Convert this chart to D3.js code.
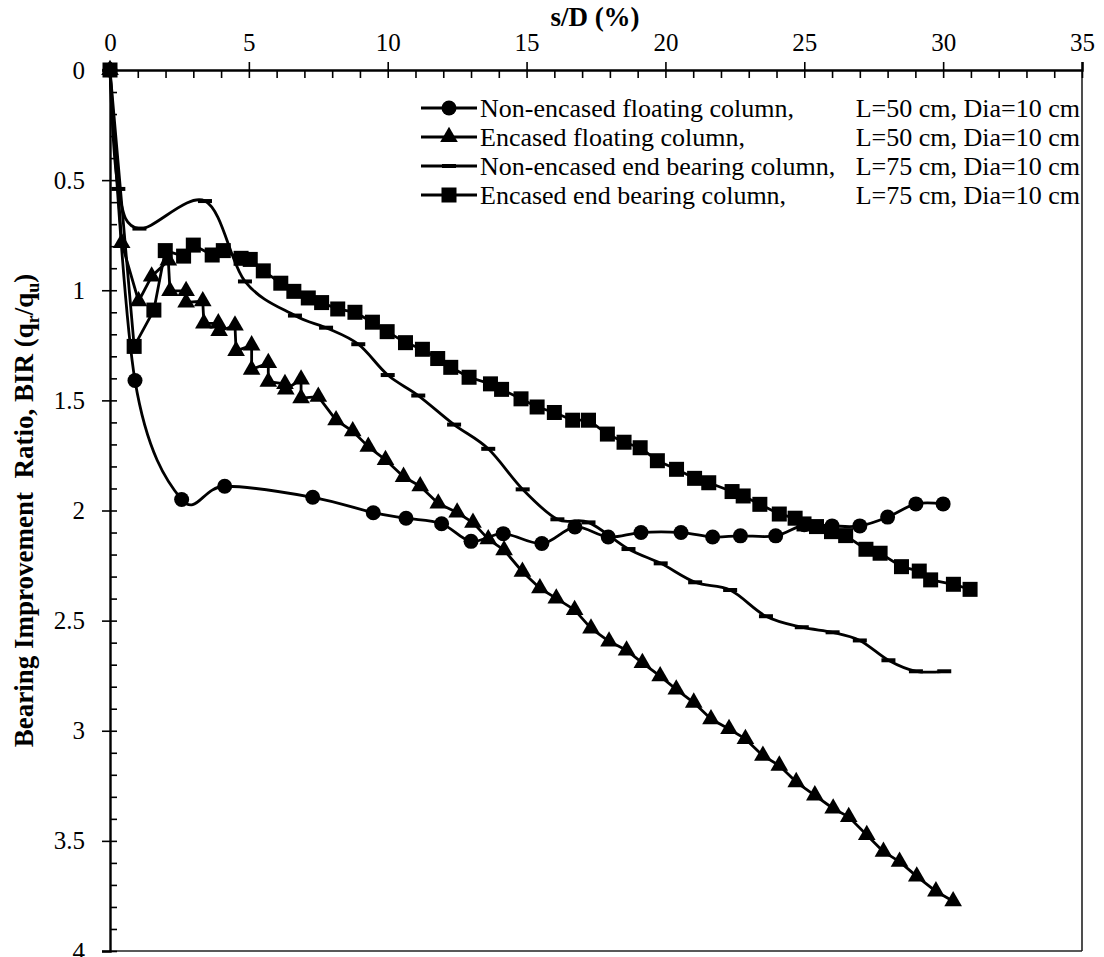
<!DOCTYPE html>
<html>
<head>
<meta charset="utf-8">
<script src="https://cdn.jsdelivr.net/npm/d3@7"></script>
<style>
  body { margin: 0; background: #fff; }
  svg text { font-family: "Liberation Serif", "Times New Roman", serif; fill: #000; }
</style>
</head>
<body>
<svg id="chart" width="1104" height="957"></svg>
<script>
// ---- data -------------------------------------------------------------
const xTickValues = [0, 5, 10, 15, 20, 25, 30, 35];
const xTickLabels = ["0", "5", "10", "15", "20", "25", "30", "35"];
const yTickValues = [0, 0.5, 1, 1.5, 2, 2.5, 3, 3.5, 4];
const yTickLabels = ["0", "0.5", "1", "1.5", "2", "2.5", "3", "3.5", "4"];

const seriesNames = [
  "Non-encased floating column,",
  "Encased floating column,",
  "Non-encased end bearing column,",
  "Encased end bearing column,"
];
const seriesDims = [
  "L=50 cm, Dia=10 cm",
  "L=50 cm, Dia=10 cm",
  "L=75 cm, Dia=10 cm",
  "L=75 cm, Dia=10 cm"
];

// Non-encased floating column (circles)
const nefX = [0, 0.9, 2.58, 4.13, 7.3, 9.48, 10.66, 11.94, 13.0, 14.16, 15.55, 16.74, 17.94, 19.12, 20.56, 21.7, 22.7, 23.97, 25.0, 26.0, 27.0, 28.0, 29.02, 30.0];
const nefY = [0, 1.41, 1.95, 1.89, 1.94, 2.01, 2.035, 2.06, 2.14, 2.105, 2.15, 2.075, 2.12, 2.10, 2.10, 2.12, 2.115, 2.115, 2.065, 2.07, 2.07, 2.03, 1.97, 1.97];

// Encased floating column (triangles)
const efX = [0, 0.42, 1.03, 1.5, 2.1, 2.16, 2.74, 2.74, 3.34, 3.38, 3.9, 3.93, 4.5, 4.54, 5.1, 5.1, 5.7, 5.7, 6.3, 6.33, 6.88, 6.88, 7.5,
  8.14, 8.74, 9.3, 9.92, 10.57, 11.17, 11.82, 12.5, 13.07, 13.62, 14.19, 14.85, 15.48, 16.07, 16.73, 17.32, 17.97, 18.6, 19.17,
  19.81, 20.39, 21.02, 21.64, 22.29, 22.88, 23.51, 24.1, 24.71, 25.38, 26.04, 26.6, 27.25, 27.85, 28.43, 29.05, 29.74, 30.36];
const efY = [0, 0.785, 1.05, 0.937, 0.865, 1.003, 1.003, 1.055, 1.05, 1.15, 1.15, 1.185, 1.16, 1.275, 1.25, 1.36, 1.33, 1.415, 1.425, 1.45, 1.405, 1.49, 1.483,
  1.59, 1.64, 1.71, 1.77, 1.847, 1.89, 1.968, 2.009, 2.055, 2.13, 2.18, 2.278, 2.353, 2.399, 2.451, 2.535, 2.594, 2.635, 2.692,
  2.752, 2.812, 2.872, 2.947, 2.992, 3.037, 3.113, 3.158, 3.233, 3.293, 3.353, 3.391, 3.473, 3.549, 3.594, 3.661, 3.729, 3.774];

// Non-encased end bearing column (dashes)
const nebX = [0, 0.3, 1.06, 3.42, 4.86, 6.66, 7.78, 8.94, 10.0, 11.1, 12.39, 13.62, 14.86, 16.11, 17.23, 18.67, 19.83, 21.07, 22.33, 23.62, 24.91, 26.02, 27.0, 28.03, 29.02, 30.04];
const nebY = [0, 0.54, 0.72, 0.595, 0.96, 1.115, 1.17, 1.245, 1.385, 1.478, 1.61, 1.72, 1.904, 2.04, 2.054, 2.175, 2.24, 2.326, 2.361, 2.48, 2.53, 2.553, 2.59, 2.68, 2.73, 2.73];

// Encased end bearing column (squares)
const eebX = [0, 0.87, 1.58, 1.99, 2.65, 3.0, 3.68, 4.08, 4.72, 5.05, 5.52, 6.15, 6.62, 7.14, 7.62, 8.2, 8.82, 9.45, 9.98, 10.64, 11.25, 11.8,
  12.27, 12.93, 13.7, 14.1, 14.8, 15.38, 16.0, 16.66, 17.23, 17.91, 18.51, 19.09, 19.71, 20.4, 21.05, 21.56, 22.4, 22.8, 23.4, 24.1,
  24.67, 24.99, 25.44, 25.98, 26.49, 27.22, 27.73, 28.5, 29.14, 29.55, 30.37, 30.97];
const eebY = [0, 1.255, 1.09, 0.82, 0.845, 0.795, 0.84, 0.82, 0.855, 0.86, 0.912, 0.968, 1.005, 1.035, 1.056, 1.085, 1.10, 1.145, 1.188, 1.238, 1.268, 1.31,
  1.35, 1.395, 1.425, 1.45, 1.493, 1.53, 1.555, 1.59, 1.59, 1.653, 1.69, 1.715, 1.774, 1.813, 1.854, 1.874, 1.914, 1.934, 1.972, 2.016,
  2.035, 2.061, 2.073, 2.096, 2.114, 2.176, 2.194, 2.255, 2.275, 2.315, 2.335, 2.358];

// ---- drawing ----------------------------------------------------------
const svg = d3.select("#chart");
const plot = { left: 110, right: 1082, top: 70, bottom: 951 };

const x = d3.scaleLinear().domain([0, 35]).range([plot.left, plot.right]);
const y = d3.scaleLinear().domain([0, 4]).range([plot.top, plot.bottom]);

const series = [
  { xs: nefX, ys: nefY, marker: "circle", curve: d3.curveCardinal.tension(0) },
  { xs: efX,  ys: efY,  marker: "triangle", curve: d3.curveLinear },
  { xs: nebX, ys: nebY, marker: "dash", curve: d3.curveCardinal.tension(0) },
  { xs: eebX, ys: eebY, marker: "square", curve: d3.curveLinear }
];

// frame: right and bottom edges
svg.append("line").attr("x1", plot.right).attr("x2", plot.right)
  .attr("y1", plot.top).attr("y2", plot.bottom)
  .attr("stroke", "#222").attr("stroke-width", 1.6);
svg.append("line").attr("x1", plot.left).attr("x2", plot.right)
  .attr("y1", plot.bottom).attr("y2", plot.bottom)
  .attr("stroke", "#222").attr("stroke-width", 1.6);

// top x axis: labels + outward major ticks, inward minor ticks
const xMinor = d3.range(0, 35.001, 1);
const topAxis = svg.append("g").attr("transform", `translate(0,${plot.top})`)
  .call(d3.axisTop(x).tickValues(xTickValues)
    .tickFormat((d, i) => xTickLabels[i]).tickSize(8).tickPadding(11));
svg.append("g").attr("transform", `translate(0,${plot.top})`)
  .call(d3.axisBottom(x).tickValues(xMinor).tickFormat("").tickSize(8).tickSizeOuter(0))
  .call(g => g.select(".domain").remove());
topAxis.selectAll("text").attr("font-size", 25).attr("font-family", "Liberation Serif");

// left y axis: labels + outward major ticks, inward minor ticks
const yMinor = d3.range(0, 4.0001, 0.1);
const leftAxis = svg.append("g").attr("transform", `translate(${plot.left},0)`)
  .call(d3.axisLeft(y).tickValues(yTickValues)
    .tickFormat((d, i) => yTickLabels[i]).tickSize(8).tickPadding(17));
svg.append("g").attr("transform", `translate(${plot.left},0)`)
  .call(d3.axisRight(y).tickValues(yMinor).tickFormat("").tickSize(7).tickSizeOuter(0))
  .call(g => g.select(".domain").remove());
leftAxis.selectAll("text").attr("font-size", 25).attr("font-family", "Liberation Serif");

[topAxis, leftAxis].forEach(a => {
  a.select(".domain").attr("stroke", "#000").attr("stroke-width", 2.4);
});
svg.selectAll(".tick line").attr("stroke", "#000").attr("stroke-width", 1.6);

// axis titles
svg.append("text").attr("x", 595).attr("y", 26).attr("text-anchor", "middle")
  .attr("font-size", 27).attr("font-weight", "bold").text("s/D (%)");

const yTitle = svg.append("text")
  .attr("transform", `translate(33,${(plot.top + plot.bottom) / 2}) rotate(-90)`)
  .attr("text-anchor", "middle").attr("font-size", 27).attr("font-weight", "bold")
  .style("white-space", "pre");
yTitle.append("tspan").text("Bearing Improvement  Ratio, BIR (q");
yTitle.append("tspan").attr("dy", 6).attr("font-size", 18).text("r");
yTitle.append("tspan").attr("dy", -6).text("/q");
yTitle.append("tspan").attr("dy", 6).attr("font-size", 18).text("u");
yTitle.append("tspan").attr("dy", -6).text(")");

// marker factory
function drawMarker(g, type, cx, cy) {
  if (type === "circle") {
    g.append("circle").attr("cx", cx).attr("cy", cy).attr("r", 7.5).attr("fill", "#000");
  } else if (type === "square") {
    g.append("rect").attr("x", cx - 7.5).attr("y", cy - 7.5).attr("width", 15).attr("height", 15).attr("fill", "#000");
  } else if (type === "triangle") {
    g.append("path").attr("transform", `translate(${cx},${cy})`)
      .attr("d", d3.symbol(d3.symbolTriangle, 135)()).attr("fill", "#000");
  } else if (type === "dash") {
    g.append("rect").attr("x", cx - 7).attr("y", cy - 2).attr("width", 14).attr("height", 4).attr("fill", "#000");
  }
}

// series lines and markers
const plotG = svg.append("g");
series.forEach(s => {
  const pts = s.xs.map((v, i) => [v, s.ys[i]]);
  const line = d3.line().x(d => x(d[0])).y(d => y(d[1])).curve(s.curve);
  plotG.append("path").attr("d", line(pts)).attr("fill", "none")
    .attr("stroke", "#000").attr("stroke-width", 2.8).attr("stroke-linejoin", "round");
});
series.forEach(s => {
  const g = plotG.append("g");
  s.xs.forEach((v, i) => drawMarker(g, s.marker, x(v), y(s.ys[i])));
});

// legend
const legend = svg.append("g");
const legendY = [108, 137, 166, 195];
series.forEach((s, i) => {
  const ly = legendY[i];
  legend.append("line").attr("x1", 421).attr("x2", 477).attr("y1", ly).attr("y2", ly)
    .attr("stroke", "#000").attr("stroke-width", 2.8);
  drawMarker(legend, s.marker, 449, ly);
  legend.append("text").attr("x", 480).attr("y", ly).attr("dy", "0.35em")
    .attr("font-size", 26).text(seriesNames[i]);
  legend.append("text").attr("x", 1080).attr("y", ly).attr("dy", "0.35em")
    .attr("text-anchor", "end").attr("font-size", 26).text(seriesDims[i]);
});
</script>
</body>
</html>
